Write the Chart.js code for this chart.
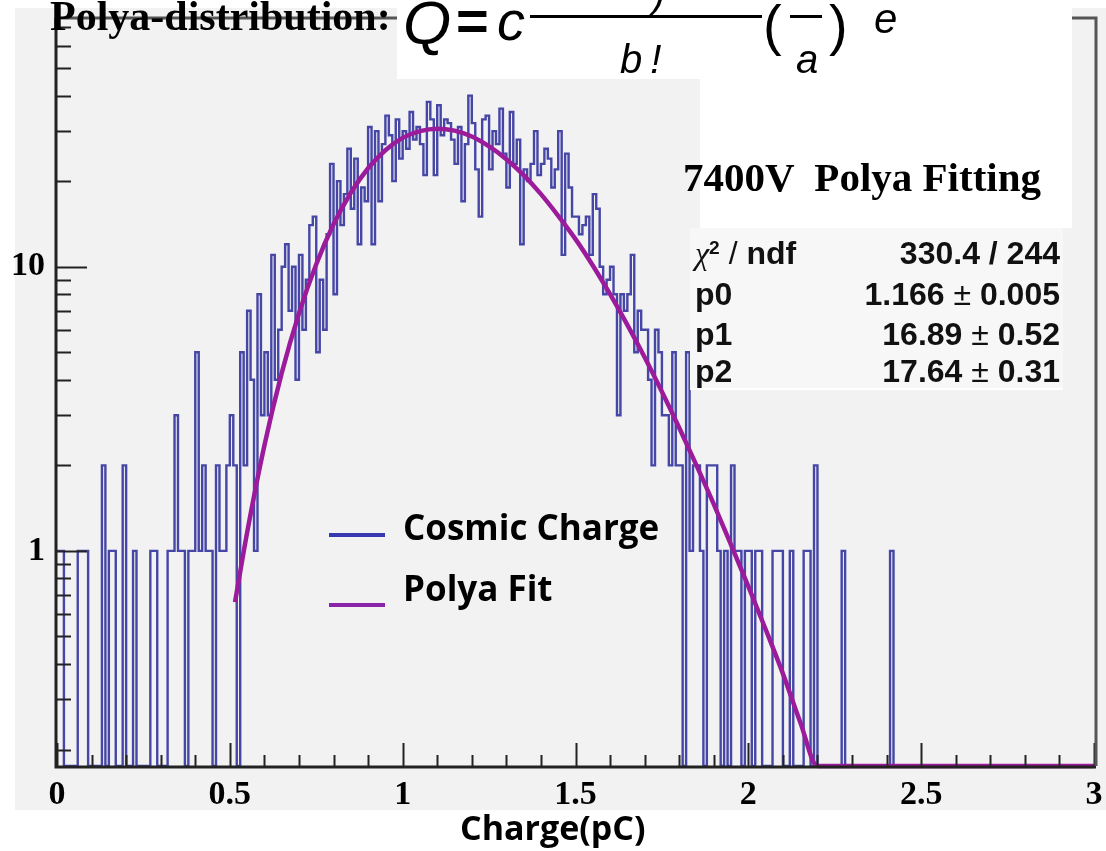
<!DOCTYPE html>
<html>
<head>
<meta charset="utf-8">
<title>7400V Polya Fitting</title>
<script src="https://cdn.jsdelivr.net/npm/chart.js@4.4.1/dist/chart.umd.min.js"></script>
<style>
  html, body { margin: 0; padding: 0; background: #fff; }
  #page { position: relative; width: 1106px; height: 851px; overflow: hidden; }
  #padFill { position: absolute; left: 15px; top: 8px; width: 1091px; height: 802px; background: #f2f2f2; }
  #chart { position: absolute; left: 0; top: 0; }
  #overlay { position: absolute; left: 0; top: 0; width: 1106px; height: 851px; }
  .box { position: absolute; overflow: hidden; }
  .txt { position: absolute; white-space: pre; color: #000; }
</style>
</head>
<body>
<div id="page">
  <div id="padFill"></div>
  <canvas id="chart" width="1106" height="851"></canvas>
  <div id="overlay"></div>
</div>
<script>
// histogram binning and axis range
const X_MIN = 0;
const X_MAX = 3;
const BIN_WIDTH = 0.01;
const Y_MIN = 0.175;
const Y_MAX = 75;

// cosmic charge counts per 0.01 pC bin (0 = empty bin)
const cosmicCounts = [
  1, 1, 0, 0, 0, 0, 1, 1, 1, 0,
  0, 0, 0, 2, 0, 1, 1, 0, 0, 2,
  0, 0, 1, 0, 0, 0, 0, 1, 1, 0,
  0, 0, 1, 1, 3, 1, 1, 0, 1, 1,
  5, 1, 2, 1, 1, 0, 2, 1, 1, 2,
  3, 2, 0, 5, 2, 7, 4, 1, 8, 3,
  5, 3, 11, 4, 6, 10, 12, 7, 10, 4,
  11, 6, 9, 14, 15, 5, 9, 6, 13, 23,
  8, 20, 14, 18, 26, 16, 24, 12, 19, 17,
  31, 12, 30, 17, 27, 34, 29, 20, 33, 24,
  30, 26, 35, 28, 31, 27, 21, 38, 33, 21,
  37, 29, 33, 32, 28, 23, 31, 17, 27, 40,
  32, 22, 15, 33, 34, 22, 30, 27, 36, 25,
  19, 35, 23, 28, 12, 22, 20, 23, 30, 21,
  23, 26, 24, 19, 22, 30, 11, 25, 19, 15,
  15, 13, 14, 15, 11, 18, 16, 10, 8, 9,
  10, 8, 3, 8, 7, 8, 11, 5, 7, 6,
  6, 4, 2, 6, 5, 3, 3, 2, 5, 2,
  2, 0, 5, 1, 2, 2, 1, 0, 2, 2,
  2, 1, 0, 1, 0, 2, 1, 1, 0, 1,
  1, 0, 1, 1, 0, 0, 0, 1, 1, 1,
  0, 0, 1, 0, 0, 0, 1, 1, 0, 2,
  0, 0, 0, 0, 0, 0, 0, 1, 0, 0,
  0, 0, 0, 0, 0, 0, 0, 0, 0, 0,
  0, 1, 0, 0, 0, 0, 0, 0, 0, 0,
  0, 0, 0, 0, 0, 0, 0, 0, 0, 0,
  0, 0, 0, 0, 0, 0, 0, 0, 0, 0,
  0, 0, 0, 0, 0, 0, 0, 0, 0, 0,
  0, 0, 0, 0, 0, 0, 0, 0, 0, 0,
  0, 0, 0, 0, 0, 0, 0, 0, 0, 0
];

// polya fit curve, sampled along the drawn line
const fitCharge = [0.515, 0.55, 0.6, 0.65, 0.7, 0.75, 0.8, 0.85, 0.9, 0.95,
  1.0, 1.05, 1.1, 1.15, 1.2, 1.25, 1.3, 1.35, 1.4, 1.45,
  1.5, 1.55, 1.6, 1.65, 1.7, 1.75, 1.8, 1.85, 1.9, 1.95,
  2.0, 2.05, 2.1, 2.15, 2.2, 2.25, 2.3, 2.4, 2.5, 2.75, 3.0];
const fitValues = [0.66, 1.16, 2.35, 4.22, 6.85, 10.2, 14.1, 18.2, 22.2, 25.7,
  28.4, 30.0, 30.6, 30.1, 28.7, 26.5, 23.9, 21.0, 18.0, 15.1,
  12.5, 10.1, 8.0, 6.24, 4.8, 3.63, 2.71, 2.0, 1.46, 1.05,
  0.75, 0.53, 0.37, 0.25, 0.174, 0.118, 0.08, 0.035, 0.015, 0.0018, 0.0002];

// axis ticks
const xMajorTicks = [0, 0.5, 1, 1.5, 2, 2.5, 3];
const xMinorTicks = [0.1, 0.2, 0.3, 0.4, 0.6, 0.7, 0.8, 0.9, 1.1, 1.2, 1.3, 1.4,
  1.6, 1.7, 1.8, 1.9, 2.1, 2.2, 2.3, 2.4, 2.6, 2.7, 2.8, 2.9];
const yMajorTicks = [1, 10];
const yMinorTicks = [0.2, 0.3, 0.4, 0.5, 0.6, 0.7, 0.8, 0.9, 2, 3, 4, 5, 6, 7, 8, 9,
  20, 30, 40, 50, 60, 70];

// fit statistics box
const statNames = ["p0", "p1", "p2"];
const statValues = ["1.166", "16.89", "17.64"];
const statErrors = ["0.005", "0.52", "0.31"];
const chi2Value = "330.4";
const ndfValue = "244";

const HIST_COLOR = "#4646a6";
const FIT_COLOR = "#9b1b9b";
const AXIS_COLOR = "#222";

// empty bins are drawn on the frame bottom, like ROOT does on a log axis
const histPoints = cosmicCounts.map((count, i) => ({
  x: X_MIN + i * BIN_WIDTH,
  y: count > 0 ? count : Y_MIN
}));
histPoints.push({ x: X_MAX, y: histPoints[histPoints.length - 1].y });

const fitPoints = fitCharge.map((x, i) => ({ x, y: Math.max(fitValues[i], Y_MIN) }));

const rootFramePlugin = {
  id: "rootFrame",
  afterDatasetsDraw(chart) {
    const { ctx, chartArea: area, scales: { x, y } } = chart;
    ctx.save();
    ctx.strokeStyle = AXIS_COLOR;
    ctx.lineWidth = 2;
    ctx.beginPath();
    xMajorTicks.forEach((v) => {
      const px = Math.round(x.getPixelForValue(v)) + 0.5;
      ctx.moveTo(px, area.bottom);
      ctx.lineTo(px, area.bottom - 23);
    });
    xMinorTicks.forEach((v) => {
      const px = Math.round(x.getPixelForValue(v)) + 0.5;
      ctx.moveTo(px, area.bottom);
      ctx.lineTo(px, area.bottom - 11);
    });
    yMajorTicks.forEach((v) => {
      const py = Math.round(y.getPixelForValue(v)) + 0.5;
      ctx.moveTo(area.left, py);
      ctx.lineTo(area.left + 30, py);
    });
    yMinorTicks.forEach((v) => {
      const py = Math.round(y.getPixelForValue(v)) + 0.5;
      ctx.moveTo(area.left, py);
      ctx.lineTo(area.left + 14, py);
    });
    ctx.stroke();

    // frame: axes in black, right and top edges in grey
    ctx.lineWidth = 3;
    ctx.beginPath();
    ctx.moveTo(area.left - 1, area.top);
    ctx.lineTo(area.left - 1, area.bottom + 1);
    ctx.lineTo(area.right + 2, area.bottom + 1);
    ctx.stroke();
    ctx.strokeStyle = "#555";
    ctx.beginPath();
    ctx.moveTo(area.left - 1, area.top);
    ctx.lineTo(area.right + 2, area.top);
    ctx.lineTo(area.right + 2, area.bottom);
    ctx.stroke();
    ctx.restore();
  }
};

const tickFont = { family: "Liberation Serif", weight: "bold", size: 34 };

new Chart(document.getElementById("chart"), {
  type: "line",
  data: {
    datasets: [
      {
        label: "Polya Fit",
        data: fitPoints,
        borderColor: FIT_COLOR,
        borderWidth: 4.5,
        pointRadius: 0,
        cubicInterpolationMode: "monotone",
        fill: false,
        clip: 4,
        order: 0
      },
      {
        label: "Cosmic Charge",
        data: histPoints,
        borderColor: HIST_COLOR,
        borderWidth: 2.4,
        pointRadius: 0,
        stepped: true,
        fill: false,
        clip: 2,
        order: 1
      }
    ]
  },
  options: {
    responsive: false,
    animation: false,
    devicePixelRatio: 1,
    layout: { padding: { left: 0, top: 18, right: 12, bottom: 0 } },
    plugins: {
      legend: { display: false },
      tooltip: { enabled: false }
    },
    scales: {
      x: {
        type: "linear",
        min: X_MIN,
        max: X_MAX,
        grid: { display: false, drawTicks: false },
        border: { display: false },
        afterBuildTicks(scale) {
          scale.ticks = xMajorTicks.map((v) => ({ value: v }));
        },
        afterFit(scale) {
          scale.height = 85;
          scale.paddingLeft = 0;
          scale.paddingRight = 0;
        },
        ticks: {
          font: tickFont,
          color: "#000",
          padding: 9,
          maxRotation: 0,
          autoSkip: false,
          callback: (value) => String(value)
        }
      },
      y: {
        type: "logarithmic",
        min: Y_MIN,
        max: Y_MAX,
        grid: { display: false, drawTicks: false },
        border: { display: false },
        afterBuildTicks(scale) {
          scale.ticks = yMajorTicks.map((v) => ({ value: v }));
        },
        afterFit(scale) {
          scale.width = 57;
          scale.paddingTop = 0;
          scale.paddingBottom = 0;
        },
        ticks: {
          font: tickFont,
          color: "#000",
          padding: 12,
          autoSkip: false,
          callback: (value) => String(value)
        }
      }
    }
  },
  plugins: [rootFramePlugin]
});

// overlay texts: title, formula, stats box, legend and axis title
const BASELINE_RATIO = { "Liberation Serif": 0.8375, "Liberation Sans": 0.8465, "Open Sans": 0.888 };

function placeBox(parent, left, top, width, height, background) {
  const el = document.createElement("div");
  el.className = "box";
  Object.assign(el.style, {
    left: left + "px", top: top + "px", width: width + "px", height: height + "px", background
  });
  parent.appendChild(el);
  return el;
}

function placeText(parent, html, o) {
  const el = document.createElement("div");
  el.className = "txt";
  el.innerHTML = html;
  el.style.fontFamily = `"${o.family}"`;
  el.style.fontSize = o.size + "px";
  el.style.lineHeight = o.size + "px";
  el.style.fontWeight = o.weight || "normal";
  el.style.fontStyle = o.italic ? "italic" : "normal";
  el.style.top = (o.baseline - BASELINE_RATIO[o.family] * o.size) + "px";
  if (o.right !== undefined) {
    el.style.right = o.right + "px";
  } else {
    el.style.left = o.left + "px";
  }
  if (o.color) {
    el.style.color = o.color;
  }
  parent.appendChild(el);
  return el;
}

const overlay = document.getElementById("overlay");

const titleBox = placeBox(overlay, 700, 0, 372, 228, "#fff");
placeText(titleBox, "a", { family: "Liberation Sans", size: 26, italic: true, left: 327, baseline: 6 });

const formulaBox = placeBox(overlay, 397, 0, 675, 79, "#fff");
const formulaGlyphs = [
  { html: "Q", left: 6, baseline: 44, size: 62, italic: true },
  { html: "=", left: 59, baseline: 40, size: 56, weight: "bold" },
  { html: "c", left: 100, baseline: 40, size: 56, italic: true },
  { html: ")", left: 255, baseline: 8, size: 40, italic: true },
  { html: "b\u2009!", left: 223, baseline: 73, size: 40, italic: true },
  { html: "(", left: 366, baseline: 44, size: 56 },
  { html: "a", left: 399, baseline: 73, size: 40, italic: true },
  { html: ")", left: 432, baseline: 44, size: 56 },
  { html: "e", left: 477, baseline: 34, size: 42, italic: true }
];
formulaGlyphs.forEach((g) => placeText(formulaBox, g.html, { family: "Liberation Sans", ...g }));
[[133, 232], [393, 32]].forEach(([left, width]) => {
  placeBox(formulaBox, left, 15, width, 3, "#000");
});

placeText(overlay, "Polya-distribution:", {
  family: "Liberation Serif", weight: "bold", size: 42, left: 50, baseline: 30
});
placeText(overlay, "7400V  Polya Fitting", {
  family: "Liberation Serif", weight: "bold", size: 41, left: 683, baseline: 191
});

const statsBox = placeBox(overlay, 690, 228, 373, 160, "#f7f7f7");
statsBox.style.borderBottom = "2px solid #fff";
const statFont = { family: "Liberation Sans", weight: "bold", size: 32, color: "#111" };
const statBaselines = [36, 77, 117, 154];
placeText(statsBox,
  `<span style="font-family:'Liberation Serif';font-style:italic;font-weight:normal">χ</span>` +
  `<span style="position:relative;top:-0.5em;font-size:0.6em">2</span>` +
  `<span style="font-weight:normal"> / </span>ndf`,
  { ...statFont, left: 5, baseline: statBaselines[0] });
placeText(statsBox, `${chi2Value} / ${ndfValue}`, { ...statFont, right: 3, baseline: statBaselines[0] });
statNames.forEach((name, i) => {
  placeText(statsBox, name, { ...statFont, left: 5, baseline: statBaselines[i + 1] });
  placeText(statsBox,
    `${statValues[i]} <span style="font-weight:normal">±</span> ${statErrors[i]}`,
    { ...statFont, right: 3, baseline: statBaselines[i + 1] });
});

// legend
const legendItems = [
  { label: "Cosmic Charge", color: "#3838b0", lineY: 533, baseline: 540 },
  { label: "Polya Fit", color: "#8a24a8", lineY: 603, baseline: 601 }
];
legendItems.forEach((item) => {
  placeBox(overlay, 329, item.lineY, 56, 4, item.color);
  placeText(overlay, item.label, {
    family: "Open Sans", weight: "bold", size: 35, left: 403, baseline: item.baseline
  });
});

// x axis title
placeText(overlay, "Charge(pC)", {
  family: "Open Sans", weight: "bold", size: 34, left: 460, baseline: 840
});
</script>
</body>
</html>
